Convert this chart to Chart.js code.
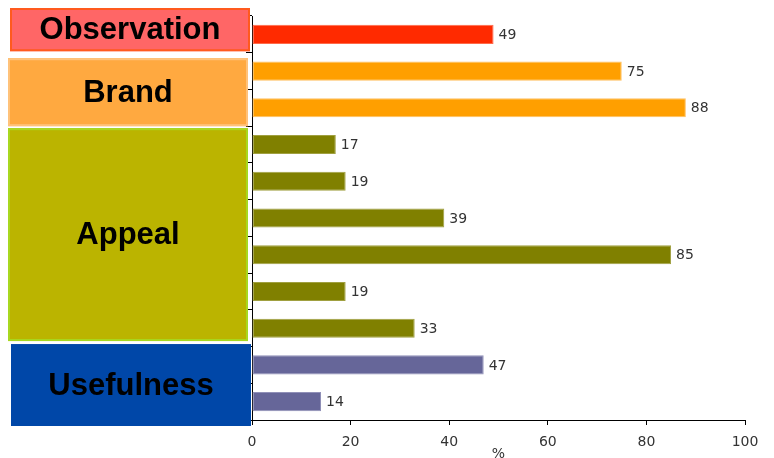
<!DOCTYPE html>
<html>
<head>
<meta charset="utf-8">
<script src="https://cdn.jsdelivr.net/npm/chart.js@4.4.1/dist/chart.umd.min.js"></script>
<style>
  html, body { margin: 0; padding: 0; background: #fff; }
  #wrap { width: 774px; height: 458px; position: relative; }
</style>
</head>
<body>
<div id="wrap"><canvas id="c" width="774" height="458"></canvas></div>
<script>
// ---- data ----
const categories = ['Observation 1', 'Brand 1', 'Brand 2', 'Appeal 1', 'Appeal 2', 'Appeal 3', 'Appeal 4', 'Appeal 5', 'Appeal 6', 'Usefulness 1', 'Usefulness 2'];
const values = [49, 75, 88, 17, 19, 39, 85, 19, 33, 47, 14];
const groupLabels = ['Observation', 'Brand', 'Appeal', 'Usefulness'];
const groupSizes = [1, 2, 6, 2];
const xTicks = [0, 20, 40, 60, 80, 100];
const axisTitle = '%';

// ---- styles ----
const groupBarColors = ['#ff2a00', '#ff9f00', '#808000', '#666699'];
const groupBarBorders = ['#ff6a4a', '#ffc060', '#a0a040', '#9090b8'];
const groupBoxFill = ['#ff6666', '#ffa940', '#bbb400', '#0047a8'];
const groupBoxStroke = ['#ff5a1e', '#ffc27a', '#a8d820', null];
const groupBoxAdj = [[-8, -1.5], [5.5, 0], [2, -5.5], [-2.5, 6]];
const groupBoxX = [10, 8, 8, 11];

const barColors = [], borderColors = [];
groupSizes.forEach((n, g) => { for (let i = 0; i < n; i++) { barColors.push(groupBarColors[g]); borderColors.push(groupBarBorders[g]); } });

const valueLabels = {
  id: 'valueLabels',
  afterDatasetsDraw(chart) {
    const ctx = chart.ctx;
    const meta = chart.getDatasetMeta(0);
    ctx.save();
    ctx.font = '14px "DejaVu Sans", Verdana, sans-serif';
    ctx.fillStyle = '#333';
    ctx.textBaseline = 'middle';
    ctx.textAlign = 'left';
    meta.data.forEach((bar, i) => {
      ctx.fillText(String(values[i]), bar.x + 5, bar.y + 1);
    });
    ctx.restore();
  }
};

const groupBoxes = {
  id: 'groupBoxes',
  afterDraw(chart) {
    const ctx = chart.ctx;
    const ys = chart.scales.y;
    const half = (ys.getPixelForValue(1) - ys.getPixelForValue(0)) / 2;
    let idx = 0;
    ctx.save();
    groupSizes.forEach((n, g) => {
      const top = ys.getPixelForValue(idx) - half + groupBoxAdj[g][0];
      const bottom = ys.getPixelForValue(idx + n - 1) + half + groupBoxAdj[g][1];
      const x = groupBoxX[g];
      const w = 240;
      ctx.fillStyle = groupBoxFill[g];
      ctx.fillRect(x, top, w, bottom - top);
      if (groupBoxStroke[g]) {
        ctx.strokeStyle = groupBoxStroke[g];
        ctx.lineWidth = 2;
        ctx.strokeRect(x + 1, top + 1, w - 2, bottom - top - 2);
      }
      ctx.fillStyle = '#000';
      ctx.font = 'bold 31px "Liberation Sans", Arial, sans-serif';
      ctx.textAlign = 'center';
      ctx.textBaseline = 'middle';
      ctx.fillText(groupLabels[g], x + w / 2, (top + bottom) / 2 + 1);
      idx += n;
    });
    ctx.restore();
  }
};

new Chart(document.getElementById('c'), {
  type: 'bar',
  data: {
    labels: categories,
    datasets: [{
      data: values,
      backgroundColor: barColors,
      borderColor: borderColors,
      borderWidth: 1,
      borderSkipped: false,
      categoryPercentage: 1,
      barPercentage: 0.52
    }]
  },
  options: {
    indexAxis: 'y',
    responsive: false,
    animation: false,
    devicePixelRatio: 1,
    layout: { padding: { top: 16, right: 29, bottom: 0, left: 0 } },
    plugins: { legend: { display: false }, tooltip: { enabled: false } },
    scales: {
      x: {
        min: 0, max: 100,
        afterBuildTicks(axis) { axis.ticks = xTicks.map(v => ({ value: v })); },
        afterFit(axis) { axis.height = 38; },
        grid: { drawOnChartArea: false, drawTicks: true, tickLength: 5, color: '#000' },
        border: { color: '#000', width: 1 },
        ticks: { color: '#333', font: { family: '"DejaVu Sans", Verdana, sans-serif', size: 14 }, padding: 9, maxRotation: 0 },
        title: { display: true, text: axisTitle, color: '#333', font: { family: '"DejaVu Sans", Verdana, sans-serif', size: 14 }, padding: { top: 0, bottom: -5 } }
      },
      y: {
        afterFit(axis) { axis.width = 252; },
        grid: { offset: true, drawOnChartArea: false, drawTicks: true, tickLength: 6, color: '#000' },
        border: { color: '#000', width: 1 },
        ticks: { callback: () => '', padding: 0 }
      }
    }
  },
  plugins: [valueLabels, groupBoxes]
});
</script>
</body>
</html>
